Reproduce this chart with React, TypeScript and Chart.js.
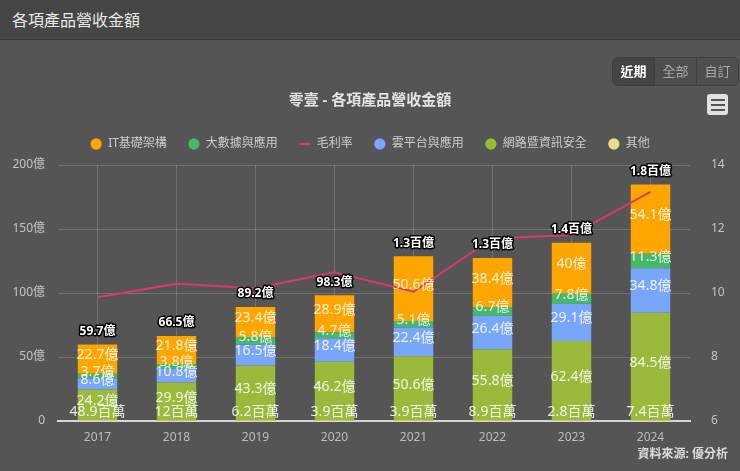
import React, { useEffect, useRef } from 'react';
import { Chart, registerables } from 'chart.js';

Chart.register(...registerables);

// values in 億
const years = ['2017', '2018', '2019', '2020', '2021', '2022', '2023', '2024'];
const itInfra = [22.7, 21.8, 23.4, 28.9, 50.6, 38.4, 40, 54.1];
const bigData = [3.7, 3.8, 5.8, 4.7, 5.1, 6.7, 7.8, 11.3];
const cloud = [8.6, 10.8, 16.5, 18.4, 22.4, 26.4, 29.1, 34.8];
const network = [24.2, 29.9, 43.3, 46.2, 50.6, 55.8, 62.4, 84.5];
const others = [0.489, 0.12, 0.062, 0.039, 0.039, 0.089, 0.028, 0.074];
const grossMargin = [9.87, 10.29, 10.15, 10.65, 10.04, 11.7, 11.81, 13.16];
const totals = [59.7, 66.5, 89.2, 98.3, 130, 130, 140, 180];

const FONT = "'Noto Sans', 'Noto Sans CJK TC', sans-serif";
const gridColor = 'rgba(255,255,255,0.16)';

function trim(v: number) {
  return String(Number(v.toFixed(1)));
}

function fmt(v: number) {
  if (v >= 100) return trim(v / 100) + '百億';
  if (v < 1) return trim(v * 100) + '百萬';
  return trim(v) + '億';
}

const stackLabels = {
  id: 'stackLabels',
  afterDatasetsDraw(chart: any) {
    const { ctx, chartArea } = chart;
    ctx.save();
    ctx.textAlign = 'center';
    ctx.textBaseline = 'middle';
    ctx.font = `14px ${FONT}`;
    ctx.fillStyle = 'rgba(255,255,255,0.86)';
    chart.data.datasets.forEach((ds: any, di: number) => {
      if (ds.type === 'line') return;
      const meta = chart.getDatasetMeta(di);
      meta.data.forEach((bar: any, i: number) => {
        const { x, y, base } = bar.getProps(['x', 'y', 'base'], true);
        const cy = Math.min((y + base) / 2 - 4, chartArea.bottom - 9);
        ctx.fillText(fmt(ds.data[i]), x, cy);
      });
    });

    // stack totals
    const yScale = chart.scales.y;
    const xScale = chart.scales.x;
    ctx.font = `bold 12px ${FONT}`;
    ctx.lineJoin = 'round';
    ctx.lineWidth = 3;
    ctx.strokeStyle = '#000';
    ctx.fillStyle = '#fff';
    years.forEach((_, i) => {
      const sum = itInfra[i] + bigData[i] + cloud[i] + network[i] + others[i];
      const x = xScale.getPixelForValue(i);
      const y = yScale.getPixelForValue(sum) - 13;
      const t = fmt(totals[i]);
      ctx.strokeText(t, x, y);
      ctx.fillText(t, x, y);
    });
    ctx.restore();
  },
};

// legend items need wide spacing but a short box
const legendHeight = {
  id: 'legendHeight',
  beforeUpdate(chart: any) {
    const legend = chart.legend;
    if (!legend || legend._fitPatched) return;
    const origFit = legend.fit;
    legend.fit = function () {
      origFit.call(this);
      this.height = 48;
    };
    legend._fitPatched = true;
  },
};

function RevenueChart() {
  const canvasRef = useRef<HTMLCanvasElement>(null);

  useEffect(() => {
    Chart.defaults.font.family = FONT;
    const bar = (label: string, data: number[], color: string) => ({
      type: 'bar' as const,
      label,
      data,
      backgroundColor: color,
      borderWidth: 0,
      yAxisID: 'y',
      stack: 's',
      barPercentage: 0.5,
      categoryPercentage: 1,
    });

    const chart = new Chart(canvasRef.current!, {
      type: 'bar',
      data: {
        labels: years,
        datasets: [
          bar('其他', others, '#e4df8b'),
          bar('網路暨資訊安全', network, '#9bb93a'),
          bar('雲平台與應用', cloud, '#78a6fb'),
          {
            type: 'line',
            label: '毛利率',
            data: grossMargin,
            borderColor: '#d8386c',
            backgroundColor: '#d8386c',
            borderWidth: 2,
            pointRadius: 0,
            pointStyle: 'line',
            yAxisID: 'y1',
          } as any,
          bar('大數據與應用', bigData, '#45b86c'),
          bar('IT基礎架構', itInfra, '#ffa500'),
        ],
      },
      options: {
        animation: false,
        responsive: true,
        maintainAspectRatio: false,
        layout: { padding: 0 },
        plugins: {
          title: {
            display: true,
            text: '零壹 - 各項產品營收金額',
            color: '#e4e4e4',
            font: { size: 15, weight: 'bold' },
            padding: { top: 92, bottom: 7 },
          },
          legend: {
            reverse: true,
            labels: {
              usePointStyle: true,
              boxWidth: 12,
              boxHeight: 8,
              padding: 21,
              color: '#cccccc',
              font: { size: 12 },
            },
          },
          tooltip: { enabled: false },
        },
        scales: {
          x: {
            stacked: true,
            grid: { offset: false, color: gridColor, drawTicks: false },
            border: { color: '#d6d6d6', width: 2 },
            ticks: { color: '#bdbdbd', padding: 9, font: { size: 12 } },
            afterFit: (s: any) => { s.height = 50; },
          },
          y: {
            stacked: true,
            min: 0,
            max: 200,
            ticks: {
              stepSize: 50,
              color: '#c4c4c4',
              padding: 13,
              font: { size: 12 },
              callback: (v: any) => (v === 0 ? '0' : v + '億'),
            },
            grid: { color: gridColor, drawTicks: false },
            border: { display: false },
            afterFit: (s: any) => { s.width = 58; },
          },
          y1: {
            position: 'right',
            min: 6,
            max: 14,
            ticks: { stepSize: 2, color: '#c4c4c4', padding: 13, font: { size: 12 } },
            grid: { display: false },
            border: { display: false },
            afterFit: (s: any) => { s.width = 50; },
          },
        },
      } as any,
      plugins: [legendHeight, stackLabels],
    });

    return () => chart.destroy();
  }, []);

  return <canvas ref={canvasRef} />;
}

export default function App() {
  useEffect(() => {
    document.body.style.margin = '0';
  }, []);

  const btn = (text: string, active: boolean, last: boolean) => (
    <div
      style={{
        width: 41,
        height: 27,
        lineHeight: '27px',
        textAlign: 'center',
        fontSize: 13,
        color: active ? '#ffffff' : '#a8a8a8',
        fontWeight: active ? 'bold' : 'normal',
        background: active ? '#444444' : 'transparent',
        borderRight: last ? 'none' : '1px solid #3e3e3e',
      }}
    >
      {text}
    </div>
  );

  return (
    <div
      style={{
        position: 'relative',
        width: 740,
        height: 471,
        background: '#555555',
        fontFamily: FONT,
        overflow: 'hidden',
      }}
    >
      <div style={{ position: 'absolute', inset: 0 }}>
        <RevenueChart />
      </div>
      <div
        style={{
          position: 'absolute',
          left: 0,
          top: 0,
          width: 740,
          height: 40,
          background: '#464646',
          borderBottom: '1px solid #3a3a3a',
          color: '#e8e8e8',
          fontSize: 16,
          lineHeight: '40px',
          paddingLeft: 12,
          boxSizing: 'border-box',
        }}
      >
        各項產品營收金額
      </div>
      <div
        style={{
          position: 'absolute',
          left: 612,
          top: 57,
          display: 'flex',
          border: '1px solid #3e3e3e',
          borderRadius: 6,
          overflow: 'hidden',
          background: '#4e4e4e',
        }}
      >
        {btn('近期', true, false)}
        {btn('全部', false, false)}
        {btn('自訂', false, true)}
      </div>
      <div
        style={{
          position: 'absolute',
          left: 707,
          top: 94,
          width: 21,
          height: 21,
          background: '#e2e2e2',
          borderRadius: 3,
          display: 'flex',
          flexDirection: 'column',
          justifyContent: 'center',
          alignItems: 'center',
          gap: 3,
        }}
      >
        {[0, 1, 2].map((k) => (
          <div key={k} style={{ width: 14, height: 2, background: '#555' }} />
        ))}
      </div>
      <div
        style={{
          position: 'absolute',
          right: 12,
          top: 444,
          fontSize: 12,
          fontWeight: 'bold',
          color: '#dddddd',
        }}
      >
        資料來源: 優分析
      </div>
    </div>
  );
}
